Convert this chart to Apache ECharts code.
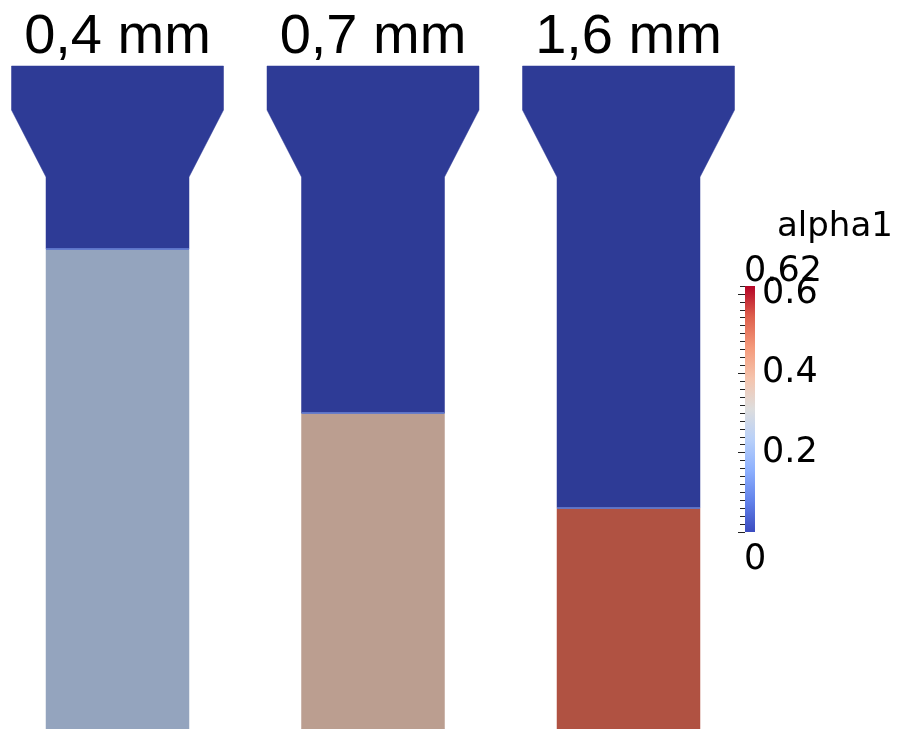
<!DOCTYPE html>
<html>
<head>
<meta charset="utf-8">
<script src="https://cdn.jsdelivr.net/npm/echarts@6/dist/echarts.min.js"></script>
<style>
  html, body { margin: 0; padding: 0; background: #fff; }
  #chart { width: 914px; height: 729px; }
</style>
</head>
<body>
<div id="chart"></div>
<script>
// Nozzle diameters shown side by side
const cases = ['0,4 mm', '0,7 mm', '1,6 mm'];
// Height of the phase interface in each column (mm from the bottom of the view)
const interfaceLevel = [48.0, 31.6, 22.1];
// Volume fraction alpha1 of the settled layer below the interface
const layerAlpha = [0.245, 0.37, 0.53];
// Region above the interface holds no phase 1
const upperAlpha = 0;

// Mould profile: [half-width, height] from the bottom of the view to the top of the funnel (mm)
const profile = [[7.15, 0], [7.15, 55.2], [10.6, 61.9], [10.6, 66.3]];
const topLevel = profile[profile.length - 1][1];

// Colour bar range and tick labels
const alphaMin = 0;
const alphaMax = 0.62;
const majorStep = 0.2;
const lastMajor = 0.6;
const majorTicks = [0.2, 0.4, 0.6];

// Cool-to-warm diverging map, evenly spaced from alphaMin to alphaMax
const coolWarm = ['#3b4cc0', '#6282ea', '#8db0fe', '#b8d0f9', '#dddddd',
                  '#f5c4ad', '#f49a7b', '#de604d', '#b40426'];
// Diffuse lighting on the rendered surfaces
const shade = 0.78;

function shadeColor(c) {
  const p = echarts.color.parse(c);
  return 'rgb(' + Math.round(p[0] * shade) + ',' + Math.round(p[1] * shade) + ',' + Math.round(p[2] * shade) + ')';
}

function halfWidthAt(y) {
  for (let i = 1; i < profile.length; i++) {
    const a = profile[i - 1], b = profile[i];
    if (y <= b[1]) {
      const t = (y - a[1]) / (b[1] - a[1] || 1);
      return a[0] + (b[0] - a[0]) * t;
    }
  }
  return profile[profile.length - 1][0];
}

// regions: each column split into the clear upper part and the settled layer
const regions = [];
cases.forEach((c, i) => {
  regions.push([i, interfaceLevel[i], topLevel, upperAlpha]);
  regions.push([i, 0, interfaceLevel[i], layerAlpha[i]]);
});

function renderRegion(params, api) {
  const idx = api.value(0), y0 = api.value(1), y1 = api.value(2);
  const base = api.coord([idx, 0]);
  const cx = base[0];
  const unit = base[1] - api.coord([idx, 1])[1];
  const ys = [y0];
  profile.forEach(p => { if (p[1] > y0 && p[1] < y1) ys.push(p[1]); });
  ys.push(y1);
  const pts = [];
  ys.forEach(y => pts.push([cx + halfWidthAt(y) * unit, api.coord([idx, y])[1]]));
  ys.slice().reverse().forEach(y => pts.push([cx - halfWidthAt(y) * unit, api.coord([idx, y])[1]]));
  const fill = shadeColor(api.visual('color'));
  const children = [{
    type: 'polygon',
    shape: { points: pts },
    style: { fill: fill, stroke: fill, lineWidth: 0.5 }
  }];
  if (y0 === 0) {
    const yTop = api.coord([idx, y1])[1];
    const hw = halfWidthAt(y1) * unit;
    children.push({
      type: 'line',
      shape: { x1: cx - hw, y1: yTop, x2: cx + hw, y2: yTop },
      style: { stroke: 'rgba(95,120,205,0.9)', lineWidth: 2 }
    });
  }
  return { type: 'group', children: children };
}

function renderBar(params, api) {
  const p0 = api.coord([0, api.value(1)]);
  const p1 = api.coord([1, api.value(2)]);
  const stops = coolWarm.map((c, i) => ({ offset: 1 - i / (coolWarm.length - 1), color: c }));
  return {
    type: 'rect',
    shape: { x: p0[0], y: p1[1], width: p1[0] - p0[0], height: p0[1] - p1[1] },
    style: { fill: new echarts.graphic.LinearGradient(0, 0, 0, 1, stops.reverse()) }
  };
}

const chart = echarts.init(document.getElementById('chart'), null, { renderer: 'canvas' });
const cbFont = 'DejaVu Sans';

// colour bar placement; the ticked scale stops at the last major value
const barTop = 286, barHeight = 246;
const tickHeight = barHeight * (lastMajor - alphaMin) / (alphaMax - alphaMin);
const tickTop = barTop + barHeight - tickHeight;
const tickStyle = { color: '#222', width: 1 };
const hiddenLine = { show: true, lineStyle: { color: '#000', opacity: 0 } };

chart.setOption({
  backgroundColor: '#ffffff',
  animation: false,
  grid: [
    { left: 117.5, right: 285.5, top: 66, bottom: 0 },
    { left: 745, width: 10, top: barTop, height: barHeight },
    { left: 745, width: 10, top: tickTop, height: tickHeight }
  ],
  xAxis: [
    {
      type: 'category', gridIndex: 0, data: cases, position: 'top', boundaryGap: false,
      axisLine: { show: false }, axisTick: { show: false },
      axisLabel: { fontSize: 56, fontFamily: 'Liberation Sans', color: '#000', margin: 0 }
    },
    { type: 'value', gridIndex: 1, min: 0, max: 1, show: false },
    { type: 'value', gridIndex: 2, min: 0, max: 1, show: false }
  ],
  yAxis: [
    { type: 'value', gridIndex: 0, min: 0, max: topLevel, show: false },
    {
      // full range: only the end tick at the top of the bar
      type: 'value', gridIndex: 1, min: alphaMin, max: alphaMax, interval: alphaMax, position: 'right', z: 10,
      offset: 4,
      axisLine: hiddenLine, splitLine: { show: false },
      axisLabel: { show: true, formatter: () => '' },
      axisTick: { show: true, inside: true, length: 5, lineStyle: tickStyle }
    },
    {
      type: 'value', gridIndex: 2, min: alphaMin, max: lastMajor, interval: majorStep, position: 'right', z: 10,
      offset: 4,
      axisLine: hiddenLine, splitLine: { show: false },
      axisTick: { show: true, inside: true, length: 7, lineStyle: tickStyle },
      minorTick: { show: true, splitNumber: 10, length: 5, lineStyle: tickStyle },
      axisLabel: {
        margin: 3, fontSize: 35, fontFamily: cbFont, color: '#000',
        formatter: v => majorTicks.some(m => Math.abs(m - v) < 1e-6) ? v.toFixed(1) : ''
      }
    }
  ],
  visualMap: {
    show: false, type: 'continuous', seriesIndex: 0, dimension: 3,
    min: alphaMin, max: alphaMax, inRange: { color: coolWarm }
  },
  graphic: [
    { type: 'text', left: 777, top: 210, style: { text: 'alpha1', font: '34px "' + cbFont + '"', fill: '#000' } },
    { type: 'text', left: 744, top: 254, style: { text: String(alphaMax), font: '35px "' + cbFont + '"', fill: '#000' } },
    { type: 'text', left: 744, top: 542, style: { text: String(alphaMin), font: '35px "' + cbFont + '"', fill: '#000' } }
  ],
  series: [
    {
      type: 'custom', xAxisIndex: 0, yAxisIndex: 0, data: regions,
      encode: { x: 0, y: [1, 2] }, renderItem: renderRegion
    },
    {
      type: 'custom', xAxisIndex: 1, yAxisIndex: 1, data: [[0, alphaMin, alphaMax]],
      encode: { x: 0, y: [1, 2] }, renderItem: renderBar, silent: true
    }
  ]
});
</script>
</body>
</html>
